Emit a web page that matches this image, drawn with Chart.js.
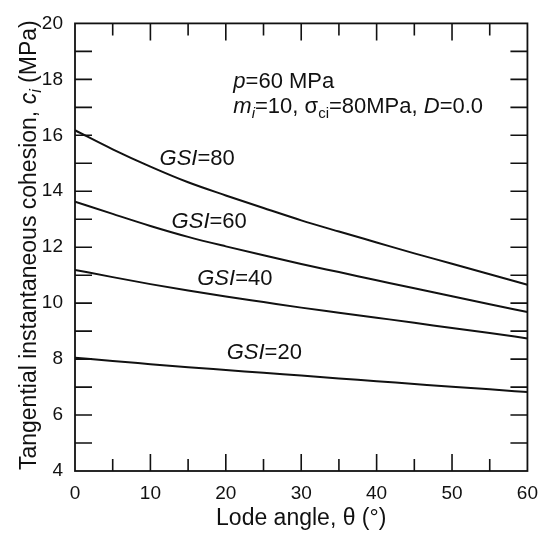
<!DOCTYPE html>
<html>
<head>
<meta charset="utf-8">
<script src="https://cdn.jsdelivr.net/npm/chart.js@4"></script>
<style>
  html, body { margin: 0; padding: 0; background: #fff; }
  #wrap { width: 549px; height: 533px; position: relative; }
</style>
</head>
<body>
<div id="wrap"><canvas id="c" width="549" height="533"></canvas></div>
<script>
// ---- data ----
const thetas = [0, 5, 10, 15, 20, 25, 30, 35, 40, 45, 50, 55, 60];
const gsi80 = [16.18, 15.50, 14.88, 14.32, 13.85, 13.40, 12.96, 12.56, 12.17, 11.78, 11.41, 11.03, 10.66];
const gsi60 = [13.63, 13.19, 12.76, 12.37, 12.03, 11.71, 11.40, 11.11, 10.82, 10.53, 10.25, 9.96, 9.68];
const gsi40 = [11.19, 10.93, 10.68, 10.45, 10.24, 10.04, 9.84, 9.66, 9.48, 9.30, 9.11, 8.93, 8.74];
const gsi20 = [8.05, 7.93, 7.82, 7.71, 7.61, 7.51, 7.41, 7.31, 7.21, 7.11, 7.01, 6.92, 6.82];
const seriesNames = ['80', '60', '40', '20'];
const xMajorTicks = [0, 10, 20, 30, 40, 50, 60];
const xMinorTicks = [5, 15, 25, 35, 45, 55];
const yTicks = [4, 5, 6, 7, 8, 9, 10, 11, 12, 13, 14, 15, 16, 17, 18, 19, 20];

// ---- layout / style (not data) ----
const FONT = '"Liberation Sans", Arial, Helvetica, sans-serif';
const INK = '#111';
const labelPos = [ [16.2, 15.12], [17.8, 12.87], [21.2, 10.82], [25.1, 8.18] ];

function toPoints(ys) { return thetas.map((t, i) => ({ x: t, y: ys[i] })); }

function drawRuns(ctx, runs, x, y, size, align) {
  const fontFor = r => (r.it ? 'italic ' : '') + (r.sub ? Math.round(size * 0.68) : size) + 'px ' + FONT;
  let w = 0;
  runs.forEach(r => { ctx.font = fontFor(r); w += ctx.measureText(r.t).width; });
  let cx = x;
  if (align === 'center') cx = x - w / 2;
  ctx.textBaseline = 'alphabetic';
  ctx.textAlign = 'left';
  runs.forEach(r => {
    ctx.font = fontFor(r);
    ctx.fillText(r.t, cx, y + (r.sub ? size * 0.22 : 0));
    cx += ctx.measureText(r.t).width;
  });
  return w;
}

const decor = {
  id: 'decor',
  afterDatasetsDraw(chart) {
    const ctx = chart.ctx, a = chart.chartArea;
    const xs = chart.scales.x, ys = chart.scales.y;
    ctx.save();
    ctx.strokeStyle = INK;
    ctx.lineWidth = 1.6;
    ctx.beginPath();
    xMajorTicks.concat(xMinorTicks).forEach(v => {
      if (v === 0 || v === 60) return;
      const px = xs.getPixelForValue(v);
      const len = xMajorTicks.includes(v) ? 17 : 12;
      ctx.moveTo(px, a.bottom); ctx.lineTo(px, a.bottom - len);
      ctx.moveTo(px, a.top); ctx.lineTo(px, a.top + len);
    });
    yTicks.forEach(v => {
      if (v === 4 || v === 20) return;
      const py = ys.getPixelForValue(v);
      ctx.moveTo(a.left, py); ctx.lineTo(a.left + 17, py);
      ctx.moveTo(a.right, py); ctx.lineTo(a.right - 17, py);
    });
    ctx.stroke();
    ctx.lineWidth = 1.8;
    ctx.strokeRect(a.left, a.top, a.right - a.left, a.bottom - a.top);

    ctx.fillStyle = INK;
    seriesNames.forEach((n, i) => {
      const px = xs.getPixelForValue(labelPos[i][0]);
      const py = ys.getPixelForValue(labelPos[i][1]);
      drawRuns(ctx, [{ t: 'GSI', it: true }, { t: '=' + n }], px, py + 5, 22, 'center');
    });
    const ax = xs.getPixelForValue(21.0);
    drawRuns(ctx, [{ t: 'p', it: true }, { t: '=60 MPa' }], ax, ys.getPixelForValue(17.70), 22, 'left');
    drawRuns(ctx, [
      { t: 'm', it: true }, { t: 'i', it: true, sub: true }, { t: '=10, \u03c3' }, { t: 'ci', sub: true },
      { t: '=80MPa, ' }, { t: 'D', it: true }, { t: '=0.0' }
    ], ax, ys.getPixelForValue(16.80), 22, 'left');

    drawRuns(ctx, [{ t: 'Lode angle, \u03b8 (\u00b0)' }], (a.left + a.right) / 2, 525, 23, 'center');
    ctx.save();
    ctx.translate(28, (a.top + a.bottom) / 2 - 2);
    ctx.rotate(-Math.PI / 2);
    drawRuns(ctx, [
      { t: 'Tangential instantaneous cohesion, ' }, { t: 'c', it: true }, { t: 'i', it: true, sub: true }, { t: ' (MPa)' }
    ], 0, 8, 23, 'center');
    ctx.restore();
    ctx.restore();
  }
};

const mk = (ys) => ({
  data: toPoints(ys),
  borderColor: INK,
  borderWidth: 2,
  pointRadius: 0,
  fill: false,
  cubicInterpolationMode: 'monotone'
});

new Chart(document.getElementById('c'), {
  type: 'line',
  data: { datasets: [mk(gsi80), mk(gsi60), mk(gsi40), mk(gsi20)] },
  options: {
    responsive: false,
    animation: false,
    devicePixelRatio: 1,
    layout: { padding: { top: 16, right: 18, left: 0, bottom: 0 } },
    plugins: { legend: { display: false }, tooltip: { enabled: false } },
    scales: {
      x: {
        type: 'linear', min: 0, max: 60,
        afterBuildTicks: s => { s.ticks = xMajorTicks.map(v => ({ value: v })); },
        afterFit: s => { s.height = 62; },
        grid: { display: false, drawTicks: false },
        border: { display: false },
        ticks: { padding: 11, color: INK, font: { family: FONT, size: 19 }, maxRotation: 0 }
      },
      y: {
        type: 'linear', min: 4, max: 20,
        afterBuildTicks: s => { s.ticks = yTicks.filter(v => v % 2 === 0).map(v => ({ value: v })); },
        afterFit: s => { s.width = 75; },
        grid: { display: false, drawTicks: false },
        border: { display: false },
        ticks: { padding: 12, color: INK, font: { family: FONT, size: 19 } }
      }
    }
  },
  plugins: [decor]
});
</script>
</body>
</html>
